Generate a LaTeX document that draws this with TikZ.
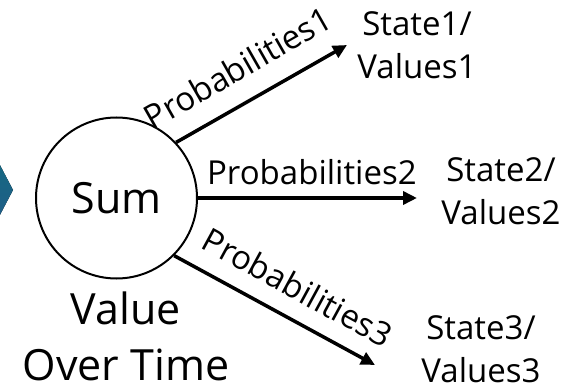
\documentclass[tikz,border=0pt]{standalone}
\usepackage{fontspec}
\setmainfont{Open Sans}
\usetikzlibrary{arrows.meta}
\definecolor{tealfill}{RGB}{15,110,125}
\definecolor{tealblue}{RGB}{38,88,140}
\tikzset{
  big/.style={font=\fontsize{43}{56}\selectfont, inner sep=0pt},
  small/.style={font=\fontsize{33}{43}\selectfont, inner sep=0pt},
  flow/.style={line width=3.5pt, -{Triangle[length=14pt,width=13pt]}},
  lbl/.style={small, sloped, inner sep=0pt}
}
\begin{document}
\begin{tikzpicture}[x=1pt, y=-1pt]
  \useasboundingbox (0,0) rectangle (565,390);
  % incoming chevron at the left edge
  \fill[top color=tealfill, bottom color=tealblue]
    (13,190) -- (-20,127) -- (-53,190) -- (-20,253) -- cycle;
  % central sum node
  \node[draw, circle, line width=2pt, minimum size=161pt, big] (sum) at (116.5,198) {Sum};
  \node[big, align=center] (vot) at (126,336) {Value\\Over Time};
  % outcome states
  \node[small, align=center] (s1) at (417,45) {State1/\\Values1};
  \node[small, align=center] (s2) at (501,191) {State2/\\Values2};
  \node[small, align=center] (s3) at (481,349) {State3/\\Values3};
  % arrow end points
  \coordinate (e1) at (347,45);
  \coordinate (e2) at (417,198);
  \coordinate (e3) at (375,365);
  % transitions
  \draw[flow] (sum.43.5) -- node[lbl, pos=0.46, above=20pt] {Probabilities1} (e1);
  \draw[flow] (sum.east) -- node[lbl, pos=0.52, above=11pt] {Probabilities2} (e2);
  \draw[flow] (sum.-45.5) -- node[lbl, pos=0.54, above=17pt] {Probabilities3} (e3);
\end{tikzpicture}
\end{document}
